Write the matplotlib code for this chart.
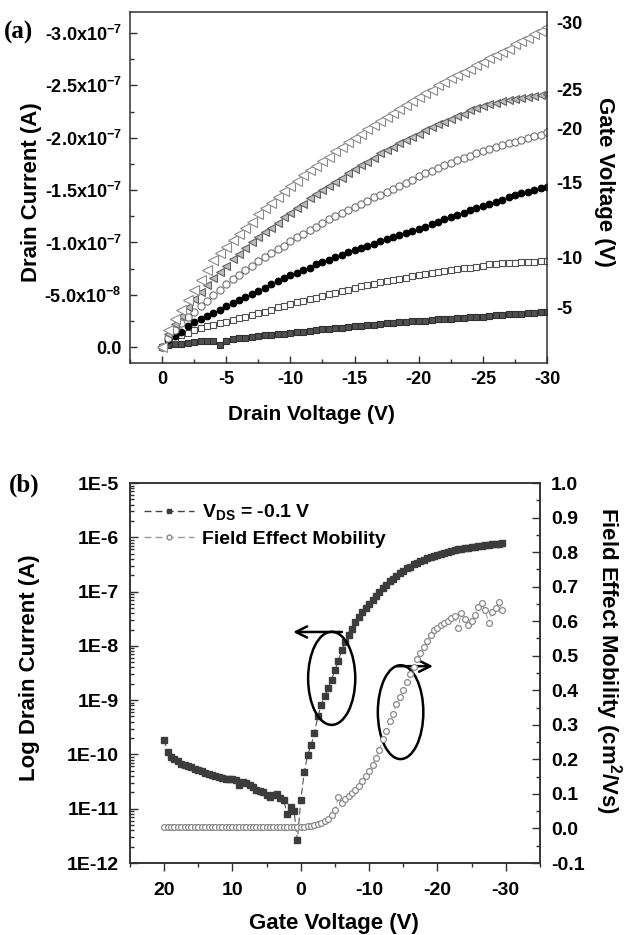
import numpy as np
import matplotlib
matplotlib.use('Agg')
import matplotlib.pyplot as plt
from matplotlib.patches import Ellipse
from matplotlib.lines import Line2D
from matplotlib.ticker import FuncFormatter, MultipleLocator, LogLocator, NullFormatter

plt.rcParams['font.family'] = ['Liberation Sans', 'DejaVu Sans']
plt.rcParams['font.weight'] = 'bold'
plt.rcParams['axes.unicode_minus'] = False
plt.rcParams['mathtext.fontset'] = 'custom'
plt.rcParams['mathtext.rm'] = 'Liberation Sans'
plt.rcParams['mathtext.bf'] = 'Liberation Sans:bold'

# ---------------- (a) output curves, drain current in units of 1e-8 A (magnitude)
drain_v = np.arange(0, -30.5, -0.5)
gate_labels = ['-5', '-10', '-15', '-20', '-25', '-30']

id_vg5 = [0.0, 0.2, 0.3, 0.35, 0.45, 0.5, 0.55, 0.6, 0.55, 0.2, 0.6, 0.75, 0.85, 0.9, 1.0, 1.1,
          1.15, 1.2, 1.3, 1.3, 1.4, 1.45, 1.5, 1.55, 1.6, 1.7, 1.75, 1.8, 1.85, 1.9, 2.0, 2.0,
          2.1, 2.15, 2.2, 2.3, 2.35, 2.4, 2.45, 2.5, 2.5, 2.55, 2.6, 2.65, 2.7, 2.7, 2.75, 2.8,
          2.85, 2.9, 2.9, 3.0, 3.05, 3.1, 3.15, 3.2, 3.2, 3.25, 3.3, 3.35, 3.4]
id_vg10 = [0.0, 0.6, 0.9, 1.2, 1.4, 1.6, 1.8, 2.0, 2.1, 2.3, 2.4, 2.6, 2.8, 2.9, 3.1, 3.3,
           3.4, 3.6, 3.8, 3.9, 4.1, 4.3, 4.4, 4.6, 4.7, 4.9, 5.1, 5.2, 5.4, 5.5, 5.7, 5.8,
           5.9, 6.0, 6.2, 6.3, 6.4, 6.5, 6.6, 6.8, 6.9, 7.0, 7.1, 7.2, 7.3, 7.4, 7.5, 7.6,
           7.6, 7.7, 7.8, 7.9, 7.9, 8.0, 8.0, 8.0, 8.1, 8.1, 8.1, 8.2, 8.2]
id_vg15 = [0.0, 0.7, 1.1, 1.5, 2.0, 2.4, 2.7, 3.0, 3.3, 3.6, 3.9, 4.2, 4.5, 4.8, 5.1, 5.4,
           5.7, 6.0, 6.3, 6.6, 6.9, 7.1, 7.4, 7.6, 7.9, 8.1, 8.3, 8.6, 8.8, 9.1, 9.3, 9.5,
           9.7, 9.9, 10.1, 10.3, 10.5, 10.7, 10.9, 11.1, 11.3, 11.5, 11.8, 12.0, 12.2, 12.4,
           12.6, 12.8, 13.1, 13.3, 13.5, 13.7, 13.9, 14.1, 14.3, 14.5, 14.7, 14.8, 15.0, 15.2, 15.3]
id_vg20 = [0.0, 0.9, 1.6, 2.3, 2.9, 3.4, 3.9, 4.4, 5.0, 5.5, 6.0, 6.5, 6.9, 7.4, 7.8, 8.2,
           8.6, 9.0, 9.4, 9.7, 10.1, 10.5, 10.8, 11.2, 11.5, 11.9, 12.2, 12.5, 12.8, 13.1, 13.4,
           13.7, 14.0, 14.3, 14.5, 14.8, 15.1, 15.4, 15.7, 16.0, 16.3, 16.6, 16.8, 17.1, 17.4,
           17.6, 17.9, 18.1, 18.3, 18.5, 18.7, 18.9, 19.1, 19.3, 19.5, 19.6, 19.8, 20.0, 20.2, 20.3, 20.5]
id_vg25 = [0.0, 1.3, 2.2, 3.0, 3.8, 4.6, 5.3, 5.9, 6.6, 7.2, 7.8, 8.4, 8.9, 9.5, 10.0, 10.5,
           11.0, 11.4, 11.9, 12.4, 12.8, 13.3, 13.7, 14.2, 14.6, 15.0, 15.4, 15.8, 16.2, 16.6,
           17.0, 17.4, 17.7, 18.1, 18.5, 18.8, 19.1, 19.5, 19.8, 20.1, 20.4, 20.7, 21.0, 21.3,
           21.5, 21.8, 22.1, 22.3, 22.6, 22.8, 23.0, 23.2, 23.3, 23.5, 23.6, 23.7, 23.8, 23.9, 24.0, 24.1, 24.2]
id_vg30 = [0.0, 1.6, 2.7, 3.6, 4.5, 5.5, 6.4, 7.4, 8.3, 9.0, 9.6, 10.2, 10.8, 11.4, 12.0, 12.7,
           13.3, 13.8, 14.3, 14.9, 15.4, 15.9, 16.4, 16.9, 17.3, 17.8, 18.2, 18.7, 19.1, 19.6,
           20.0, 20.4, 20.8, 21.2, 21.6, 22.0, 22.4, 22.7, 23.1, 23.5, 23.9, 24.3, 24.6, 25.0,
           25.3, 25.7, 26.0, 26.3, 26.6, 26.9, 27.2, 27.6, 27.9, 28.2, 28.5, 28.9, 29.2, 29.5, 29.9, 30.2, 30.6]

# ---------------- (b) transfer curve
gate_v = np.arange(20, -30, -0.5)
log_id = [-9.73, -9.96, -10.04, -10.09, -10.13, -10.17, -10.19, -10.21, -10.23, -10.26,
          -10.28, -10.31, -10.34, -10.36, -10.37, -10.39, -10.42, -10.44, -10.45, -10.45,
          -10.46, -10.47, -10.56, -10.51, -10.52, -10.57, -10.60, -10.66, -10.68, -10.70,
          -10.75, -10.79, -10.74, -10.72, -10.80, -10.84, -11.10, -10.97, -11.04, -11.57,
          -10.84, -10.33, -10.01, -9.83, -9.60, -9.30, -9.09, -8.92, -8.78, -8.62,
          -8.45, -8.27, -8.08, -7.93, -7.80, -7.68, -7.56, -7.47, -7.38, -7.30,
          -7.23, -7.15, -7.08, -7.01, -6.94, -6.87, -6.81, -6.76, -6.71, -6.66,
          -6.62, -6.57, -6.54, -6.50, -6.47, -6.44, -6.41, -6.38, -6.36, -6.34,
          -6.32, -6.30, -6.28, -6.27, -6.25, -6.24, -6.22, -6.21, -6.20, -6.19,
          -6.18, -6.17, -6.16, -6.16, -6.15, -6.14, -6.13, -6.13, -6.12, -6.11]
mobility = [0.005, 0.005, 0.005, 0.005, 0.005, 0.005, 0.005, 0.005, 0.005, 0.005,
            0.005, 0.005, 0.005, 0.005, 0.005, 0.005, 0.005, 0.005, 0.005, 0.005,
            0.005, 0.005, 0.005, 0.005, 0.005, 0.005, 0.005, 0.005, 0.005, 0.005,
            0.005, 0.005, 0.005, 0.005, 0.005, 0.005, 0.005, 0.005, 0.005, 0.005,
            0.005, 0.005, 0.006, 0.008, 0.011, 0.014, 0.017, 0.021, 0.028, 0.039,
            0.053, 0.092, 0.075, 0.086, 0.094, 0.102, 0.112, 0.122, 0.137, 0.152,
            0.167, 0.185, 0.205, 0.228, 0.258, 0.282, 0.310, 0.330, 0.360, 0.380,
            0.400, 0.425, 0.447, 0.468, 0.490, 0.508, 0.525, 0.542, 0.560, 0.575,
            0.580, 0.588, 0.595, 0.600, 0.610, 0.615, 0.580, 0.625, 0.605, 0.590,
            0.600, 0.618, 0.640, 0.652, 0.632, 0.594, 0.628, 0.637, 0.656, 0.632]

fig = plt.figure(figsize=(6.27, 9.35), dpi=100)
spine_c = '#303030'

# ================= panel (a)
ax = fig.add_axes([0.2073, 0.6118, 0.6651, 0.3754])
styles = [
    (id_vg5, dict(marker='s', ms=4.5, mfc='#505050', mec='#303030', mew=0.8)),
    (id_vg10, dict(marker='s', ms=4.8, mfc='white', mec='#505050', mew=0.8)),
    (id_vg15, dict(marker='o', ms=4.8, mfc='black', mec='black', mew=0.8)),
    (id_vg20, dict(marker='o', ms=5.2, mfc='white', mec='#707070', mew=0.8)),
    (id_vg25, dict(marker='<', ms=6, mfc='#bdbdbd', mec='#606060', mew=0.8)),
    (id_vg30, dict(marker='<', ms=6.5, mfc='white', mec='#8a8a8a', mew=0.8)),
]
for (vals, st), lab in zip(styles, gate_labels):
    cur = -np.array(vals) * 1e-8
    ax.plot(drain_v, cur, ls='none', **st)
    ax.annotate(lab, xy=(drain_v[-1], cur[-1]), xytext=(7, 1.5), textcoords='offset points',
                ha='left', va='center', fontsize=13, annotation_clip=False)

ax.set_xlim(2.5, -30)
ax.set_ylim(1.5e-8, -3.2e-7)
ax.set_xticks(np.arange(0, -31, -5))
ax.xaxis.set_minor_locator(MultipleLocator(2.5))
ax.set_yticks(np.arange(0, -3.01e-7, -5e-8))
ax.yaxis.set_minor_locator(MultipleLocator(2.5e-8))


def sci_fmt(v, pos):
    if abs(v) < 1e-12:
        return '0.0'
    e = int(np.floor(np.log10(abs(v)) + 1e-9))
    m = v / 10 ** e
    return '%.1fx10$^{\\mathbf{%d}}$' % (m, e)


ax.yaxis.set_major_formatter(FuncFormatter(sci_fmt))
ax.tick_params(which='both', direction='in', width=1.0, labelsize=13, color=spine_c)
ax.tick_params(which='major', length=5, pad=6)
ax.tick_params(which='minor', length=3)
for s in ax.spines.values():
    s.set_linewidth(1.1)
    s.set_color(spine_c)
ax.text(-0.235, 0.487, 'Drain Current (A)', rotation=90, transform=ax.transAxes,
        ha='center', va='center', fontsize=16)
ax.text(0.436, -0.148, 'Drain Voltage (V)', transform=ax.transAxes,
        ha='center', va='center', fontsize=15)
ax.text(1.139, 0.516, 'Gate Voltage (V)', rotation=270, transform=ax.transAxes,
        ha='center', va='center', fontsize=16)
fig.text(0.006, 0.965, '(a)', family='Liberation Serif', weight='bold', fontsize=18, va='center')

# ================= panel (b)
axb = fig.add_axes([0.2073, 0.0770, 0.6539, 0.4064])
axb.set_yscale('log')
l1, = axb.plot(gate_v, 10 ** np.array(log_id), ls=(0, (6, 3)), lw=0.8, color='#555555',
               marker='s', ms=5, mfc='#3c3c3c', mec='#3c3c3c')
axb.set_xlim(25, -35)
axb.set_ylim(1e-12, 1e-5)
axb.set_xticks([20, 10, 0, -10, -20, -30])
axb.xaxis.set_minor_locator(MultipleLocator(5))
axb.yaxis.set_major_locator(LogLocator(base=10, numticks=12))
axb.yaxis.set_minor_locator(LogLocator(base=10, subs=np.arange(2, 10), numticks=12))
axb.yaxis.set_minor_formatter(NullFormatter())
axb.yaxis.set_major_formatter(FuncFormatter(lambda v, p: '1E%d' % round(np.log10(v))))
axb.tick_params(axis='x', which='both', direction='out', width=1.0, labelsize=14, color=spine_c)
axb.tick_params(axis='x', which='major', length=6, pad=8)
axb.tick_params(axis='x', which='minor', length=3)
axb.tick_params(axis='y', which='both', direction='in', width=1.0, labelsize=14, color=spine_c)
axb.tick_params(axis='y', which='major', length=6, pad=8)
axb.tick_params(axis='y', which='minor', length=3)

ax2 = axb.twinx()
l2, = ax2.plot(gate_v, mobility, ls=(0, (6, 3)), lw=0.7, color='#9a9a9a',
               marker='o', ms=4.2, mfc='white', mec='#8a8a8a', mew=0.9)
ax2.set_ylim(-0.1, 1.0)
ax2.set_yticks(np.arange(-0.1, 1.01, 0.1))
ax2.yaxis.set_minor_locator(MultipleLocator(0.05))
ax2.yaxis.set_major_formatter(FuncFormatter(lambda v, p: '%.1f' % (round(v, 1) + 0.0)))
ax2.tick_params(axis='y', which='both', direction='in', width=1.0, labelsize=14, color=spine_c)
ax2.tick_params(axis='y', which='major', length=6, pad=8)
ax2.tick_params(axis='y', which='minor', length=3)
for a in (axb, ax2):
    for s in a.spines.values():
        s.set_linewidth(1.1)
        s.set_color(spine_c)

h1 = Line2D([], [], ls=(0, (5, 3)), lw=1.0, color='#444444', marker='s', ms=3.5,
            mfc='#3c3c3c', mec='#3c3c3c')
h2 = Line2D([], [], ls=(0, (5, 3)), lw=1.0, color='#9a9a9a', marker='o', ms=3.5,
            mfc='white', mec='#8a8a8a')
axb.legend([h1, h2], ['V$_{\\mathrm{DS}}$ = -0.1 V', 'Field Effect Mobility'],
           loc='upper left', bbox_to_anchor=(0.0, 0.985), frameon=False,
           prop={'size': 14, 'weight': 'bold'}, handlelength=2.6, handletextpad=0.4,
           labelspacing=0.4, borderaxespad=0.3)

# ellipses with arrows pointing at the relevant axes
axb.add_patch(Ellipse((0.492, 0.486), 0.115, 0.245, transform=axb.transAxes,
                      fill=False, lw=1.8, ec='black', zorder=5))
axb.add_patch(Ellipse((0.660, 0.397), 0.111, 0.247, transform=axb.transAxes,
                      fill=False, lw=1.8, ec='black', zorder=5))
axb.annotate('', xy=(0.398, 0.608), xytext=(0.517, 0.608), xycoords='axes fraction',
             arrowprops=dict(arrowstyle='->', lw=1.8, color='black', mutation_scale=20,
                             shrinkA=0, shrinkB=0))
axb.annotate('', xy=(0.739, 0.518), xytext=(0.651, 0.518), xycoords='axes fraction',
             arrowprops=dict(arrowstyle='->', lw=1.8, color='black', mutation_scale=20,
                             shrinkA=0, shrinkB=0))

axb.text(-0.244, 0.513, 'Log Drain Current (A)', rotation=90, transform=axb.transAxes,
         ha='center', va='center', fontsize=16)
axb.text(0.498, -0.158, 'Gate Voltage (V)', transform=axb.transAxes,
         ha='center', va='center', fontsize=16)
axb.text(1.166, 0.532, 'Field Effect Mobility (cm$^{\\mathbf{2}}$/Vs)', rotation=270,
         transform=axb.transAxes, ha='center', va='center', fontsize=16)
fig.text(0.014, 0.481, '(b)', family='Liberation Serif', weight='bold', fontsize=18, va='center')

fig.savefig('out.png', dpi=100)
